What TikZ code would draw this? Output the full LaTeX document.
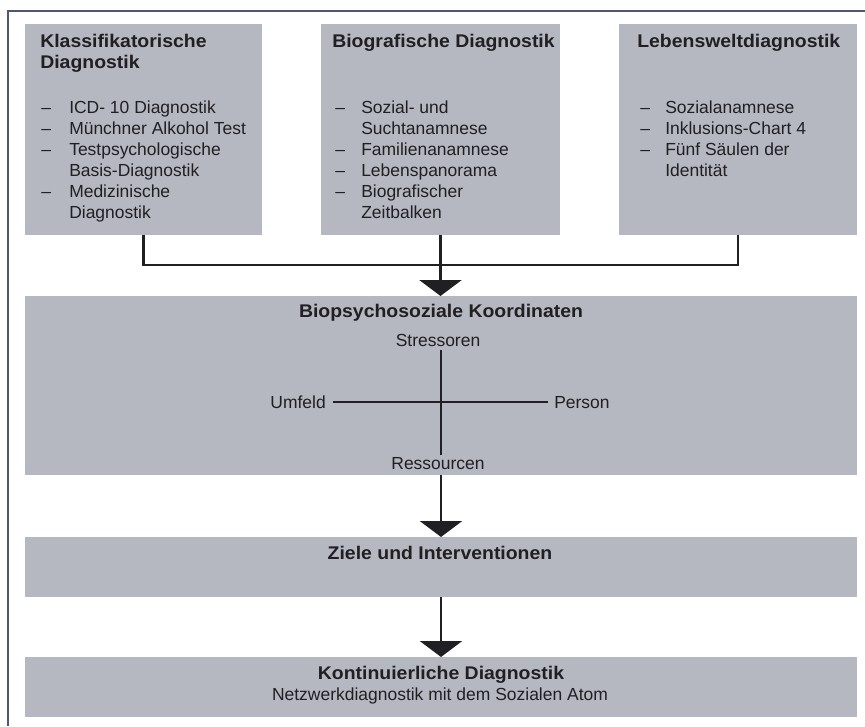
\documentclass[tikz,border=0pt]{standalone}
\usepackage{fontspec}
\setmainfont{Liberation Sans}
\newfontfamily\titlefont{Liberation Sans}[FakeStretch=1.06]
\usetikzlibrary{arrows.meta}
\definecolor{boxgray}{RGB}{181,183,193}
\definecolor{ink}{RGB}{32,32,36}
\definecolor{framecol}{RGB}{78,88,118}
\begin{document}
\begin{tikzpicture}[x=0.75pt,y=-0.75pt,
  gbox/.style={fill=boxgray, draw=none, inner sep=0, outer sep=0},
  ttl/.style={font=\titlefont\bfseries\fontsize{13.75}{16}\selectfont, text=ink, inner sep=0, anchor=base west},
  itm/.style={font=\fontsize{13.1}{16}\selectfont, text=ink, inner sep=0, anchor=base west},
  conn/.style={draw=ink, line width=2.2pt},
  downarrow/.style={-{Triangle[width=31.5pt,length=12pt]}},
  crossline/.style={draw=ink, line width=1.2pt}]
\useasboundingbox (0,0) rectangle (865,726);
% frame
\draw[framecol, line width=1.2pt] (8,726) -- (8,11) -- (865,11);
% top boxes
\node[gbox, minimum width=177.75pt, minimum height=158.25pt] (k) at (143.5,129.5) {};
\node[gbox, minimum width=179.25pt, minimum height=158.25pt] (b) at (440.5,129.5) {};
\node[gbox, minimum width=178.5pt, minimum height=158.25pt] (l) at (738,129.5) {};
% lower boxes
\node[gbox, minimum width=624pt, minimum height=134.25pt] (bio) at (441,385.5) {};
\node[gbox, minimum width=624pt, minimum height=45pt] (ziele) at (441,567) {};
\node[gbox, minimum width=624pt, minimum height=45pt] (kont) at (441,687) {};
% box 1 text
\node[ttl] (k1) at (40,47) {Klassifikatorische};
\node[ttl] (k2) at (40,68) {Diagnostik};
\node[itm] (kd1) at (41,113) {–};
\node[itm] (kt1) at (69,113) {ICD- 10 Diagnostik};
\node[itm] (kd2) at (41,134) {–};
\node[itm] (kt2) at (69,134) {Münchner Alkohol Test};
\node[itm] (kd3) at (41,155) {–};
\node[itm] (kt3) at (69,155) {Testpsychologische};
\node[itm] (kt4) at (69,176) {Basis-Diagnostik};
\node[itm] (kd5) at (41,197) {–};
\node[itm] (kt5) at (69,197) {Medizinische};
\node[itm] (kt6) at (69,218) {Diagnostik};
% box 2 text
\node[ttl] (b1) at (332,47) {Biografische Diagnostik};
\node[itm] (bd1) at (335,113) {–};
\node[itm] (bt1) at (361,113) {Sozial- und};
\node[itm] (bt2) at (361,134) {Suchtanamnese};
\node[itm] (bd3) at (335,155) {–};
\node[itm] (bt3) at (361,155) {Familienanamnese};
\node[itm] (bd4) at (335,176) {–};
\node[itm] (bt4) at (361,176) {Lebenspanorama};
\node[itm] (bd5) at (335,197) {–};
\node[itm] (bt5) at (361,197) {Biografischer};
\node[itm] (bt6) at (361,218) {Zeitbalken};
% box 3 text
\node[ttl] (l1) at (637,47) {Lebensweltdiagnostik};
\node[itm] (ld1) at (640,113) {–};
\node[itm] (lt1) at (665,113) {Sozialanamnese};
\node[itm] (ld2) at (640,134) {–};
\node[itm] (lt2) at (665,134) {Inklusions-Chart 4};
\node[itm] (ld3) at (640,155) {–};
\node[itm] (lt3) at (665,155) {Fünf Säulen der};
\node[itm] (lt4) at (665,176) {Identität};
% bio box text
\node[ttl, anchor=base] (biot) at (441,317) {Biopsychosoziale Koordinaten};
\node[itm, anchor=base] (str) at (438,346) {Stressoren};
\node[itm, anchor=base east] (umf) at (326,408) {Umfeld};
\node[itm, anchor=base west] (per) at (554,408) {Person};
\node[itm, anchor=base] (res) at (438,469) {Ressourcen};
\coordinate (ctop) at (441,350);
\coordinate (cbot) at (441,455);
\coordinate (cleft) at (333,402);
\coordinate (cright) at (548,402);
\draw[crossline] (ctop) -- (cbot);
\draw[crossline] (cleft) -- (cright);
% ziele / kont text
\node[ttl, anchor=base] (zt) at (440,559) {Ziele und Interventionen};
\node[ttl, anchor=base] (kt) at (441,679) {Kontinuierliche Diagnostik};
\node[itm, anchor=base] (ks) at (440,700) {Netzwerkdiagnostik mit dem Sozialen Atom};
% connectors
\draw[conn] (k.south) -- ++(0,30) -| (l.south);
\draw[conn, downarrow] (b.south) -- (b.south |- bio.north);
\draw[conn, downarrow] (bio.south) -- (ziele.north);
\draw[conn, downarrow] (ziele.south) -- (kont.north);
\end{tikzpicture}
\end{document}
